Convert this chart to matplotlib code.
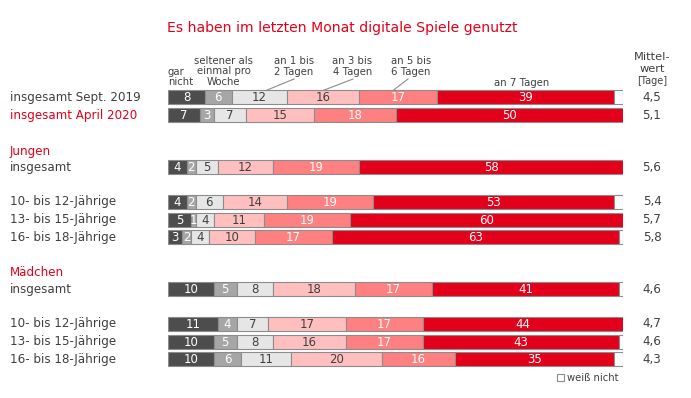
import matplotlib.pyplot as plt
import numpy as np

plt.rcParams['font.family'] = ['DejaVu Sans']

# data (percent per category, last column "weiß nicht" is the rest up to 100)
row_labels = ["insgesamt Sept. 2019", "insgesamt April 2020", "insgesamt",
              "10- bis 12-Jährige", "13- bis 15-Jährige", "16- bis 18-Jährige",
              "insgesamt",
              "10- bis 12-Jährige", "13- bis 15-Jährige", "16- bis 18-Jährige"]
gar_nicht = [8, 7, 4, 4, 5, 3, 10, 11, 10, 10]
seltener = [6, 3, 2, 2, 1, 2, 5, 4, 5, 6]
tage_1_2 = [12, 7, 5, 6, 4, 4, 8, 7, 8, 11]
tage_3_4 = [16, 15, 12, 14, 11, 10, 18, 17, 16, 20]
tage_5_6 = [17, 18, 19, 19, 19, 17, 17, 17, 17, 16]
tage_7 = [39, 50, 58, 53, 60, 63, 41, 44, 43, 35]
mittelwert = ["4,5", "5,1", "5,6", "5,4", "5,7", "5,8", "4,6", "4,7", "4,6", "4,3"]

# layout
W, H = 691, 398
row_y = [97, 115, 167, 202, 220, 237, 289, 324, 342, 359]
bar_left, bar_width_px = 168.3, 455
bar_h = 13.5
red = '#e2001a'
dark_txt = '#404040'
colors = ['#4d4d4d', '#a6a6a6', '#e6e6e6', '#ffbfbf', '#ff8080', red, 'white']
txt_colors = ['white', 'white', dark_txt, dark_txt, 'white', 'white', None]

fig = plt.figure(figsize=(W / 100, H / 100), dpi=100)
ax = fig.add_axes([bar_left / W, 0, bar_width_px / W, 1])
ax.set_xlim(0, 100)
ax.set_ylim(H, 0)
ax.axis('off')

data = np.array([gar_nicht, seltener, tage_1_2, tage_3_4, tage_5_6, tage_7], dtype=float).T
rest = 100 - data.sum(axis=1)
data = np.column_stack([data, rest])

for i, y in enumerate(row_y):
    left = 0
    for j in range(data.shape[1]):
        v = data[i, j]
        if v <= 0:
            continue
        ax.barh(y, v, left=left, height=bar_h, color=colors[j],
                edgecolor='#8c8c8c', linewidth=0.8)
        if txt_colors[j] is not None:
            ax.text(left + v / 2, y + 0.5, f"{int(v)}", ha='center', va='center',
                    fontsize=8.5, color=txt_colors[j])
        left += v


def ftext(x, y, s, **kw):
    fig.text(x / W, 1 - y / H, s, **kw)


# title
ftext(342, 28, "Es haben im letzten Monat digitale Spiele genutzt",
      ha='center', va='center', fontsize=10.1, color=red)

# row labels
label_colors = [dark_txt, red] + [dark_txt] * 8
for lab, y, c in zip(row_labels, row_y, label_colors):
    ftext(10, y, lab, ha='left', va='center', fontsize=8.6, color=c)
ftext(10, 152, "Jungen", ha='left', va='center', fontsize=8.6, color=red)
ftext(10, 273, "Mädchen", ha='left', va='center', fontsize=8.6, color=red)

# mean values
for m, y in zip(mittelwert, row_y):
    ftext(652, y, m, ha='center', va='center', fontsize=8.6, color=dark_txt)
ftext(652, 57, "Mittel-", ha='center', va='center', fontsize=8.2, color=dark_txt)
ftext(652, 69.5, "wert", ha='center', va='center', fontsize=8.2, color=dark_txt)
ftext(652, 81.5, "[Tage]", ha='center', va='center', fontsize=7, color=dark_txt)

# category headers
hs = 7.3
ftext(168, 77, "gar\nnicht", ha='left', va='center', fontsize=hs, color=dark_txt,
      linespacing=1.05)
ftext(223.5, 71.5, "seltener als\neinmal pro\nWoche", ha='center', va='center',
      fontsize=hs, color=dark_txt, linespacing=1.05, multialignment='center')
for cx, s in [(294, "an 1 bis\n2 Tagen"), (352.5, "an 3 bis\n4 Tagen"), (411, "an 5 bis\n6 Tagen")]:
    ftext(cx, 66.5, s, ha='center', va='center', fontsize=hs, color=dark_txt,
          linespacing=1.05, multialignment='center')
ftext(521.5, 82.5, "an 7 Tagen", ha='center', va='center', fontsize=hs, color=dark_txt)

# leader lines
for (x0, y0, x1, y1) in [(294, 79, 266, 90.5), (353, 79, 323, 90.5), (408, 79, 393, 90.5)]:
    fig.add_artist(plt.Line2D([x0 / W, x1 / W], [1 - y0 / H, 1 - y1 / H],
                              color='#8c8c8c', linewidth=0.8))

# legend weiß nicht
fig.add_artist(plt.Rectangle((557 / W, 1 - 381 / H), 7 / W, 7 / H,
                             facecolor='white', edgecolor='#8c8c8c', linewidth=0.8))
ftext(567, 378, "weiß nicht", ha='left', va='center', fontsize=7.2, color=dark_txt)

fig.savefig('out.png', dpi=100, facecolor='white')
